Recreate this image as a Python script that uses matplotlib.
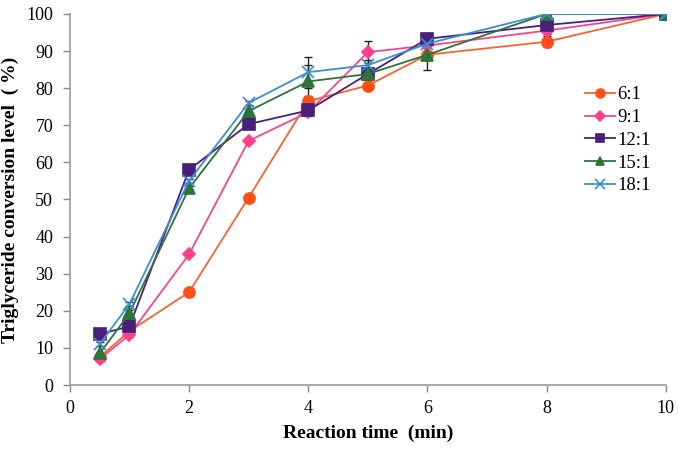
import numpy as np
import matplotlib
matplotlib.use('Agg')
import matplotlib.pyplot as plt

plt.rcParams['font.family'] = ['Liberation Serif', 'DejaVu Serif']

time = [0.5, 1, 2, 3, 4, 5, 6, 8, 10]
labels = ['6:1', '9:1', '12:1', '15:1', '18:1']
conv = {
    '6:1':  [7.5, 14.5, 25.0, 50.5, 76.5, 80.7, 89.0, 92.5, 100],
    '9:1':  [7.0, 13.5, 35.2, 65.8, 73.5, 89.7, 91.5, 95.5, 100],
    '12:1': [13.7, 15.8, 58.0, 70.3, 74.0, 83.8, 93.3, 97.0, 100],
    '15:1': [8.5, 19.3, 53.0, 73.8, 81.8, 83.8, 89.0, 100, 100],
    '18:1': [11.0, 21.8, 55.0, 76.0, 84.3, 86.2, 92.0, 100, 100],
}
err = {
    '6:1':  [0.5, 0.5, 0.5, 0.5, 1.5, 0.5, 0.8, 1.5, 0.3],
    '9:1':  [0.5, 0.5, 0.5, 0.5, 1.0, 3.0, 0.8, 0.8, 0.3],
    '12:1': [0.8, 1.5, 1.0, 0.5, 1.0, 1.0, 1.5, 0.8, 0.3],
    '15:1': [0.5, 0.8, 0.5, 0.5, 4.5, 1.0, 4.0, 0.3, 0.3],
    '18:1': [0.5, 0.5, 0.5, 0.5, 4.2, 1.5, 0.8, 0.3, 0.3],
}
colors = ['#F5642F', '#F7448E', '#4A1F7A', '#2C7539', '#3C8DD4']
mcolors = ['#FF4F17', '#FF3F8A', '#4A1F7A', '#2C7539', '#3C8DD4']
markers = ['o', 'D', 's', '^', 'x']
msizes = [8, 6, 8, 8, 9]

fig = plt.figure(figsize=(6.78, 4.49), dpi=100)
ax = fig.add_axes([0.103, 0.1425, 0.879, 0.8265])

for i, lab in enumerate(labels):
    ax.errorbar(time, conv[lab], yerr=err[lab], fmt='none', ecolor='#222222',
                elinewidth=1, capsize=3, zorder=1)
for i, lab in enumerate(labels):
    ax.plot(time, conv[lab], color=colors[i], marker=markers[i], ms=msizes[i],
            mfc=mcolors[i], mec=mcolors[i], mew=1.2, lw=1.3, label=lab, zorder=2)

ax.set_xlim(0, 10)
ax.set_ylim(0, 100)
ax.set_xticks([0, 2, 4, 6, 8, 10])
ax.set_yticks(np.arange(0, 101, 10))
ax.tick_params(labelsize=13, direction='out', length=5, color='#888888', width=1)
ax.tick_params(axis='y', pad=7)
ax.tick_params(axis='x', pad=6)
for s in ['top', 'right']:
    ax.spines[s].set_visible(False)
for s in ['left', 'bottom']:
    ax.spines[s].set_color('#999999')
    ax.spines[s].set_linewidth(1.2)

ax.set_xlabel('Reaction time  (min)', fontsize=14, fontweight='bold', labelpad=5)
ax.set_ylabel('Triglyceride conversion level  ( %)', fontsize=14, fontweight='bold', labelpad=5)

ax.legend(loc='upper left', bbox_to_anchor=(0.852, 0.825), frameon=False, fontsize=13.5,
          handlelength=1.6, handletextpad=0.1, labelspacing=0.3, borderaxespad=0,
          markerscale=0.8)

fig.savefig('out.png', dpi=100)
